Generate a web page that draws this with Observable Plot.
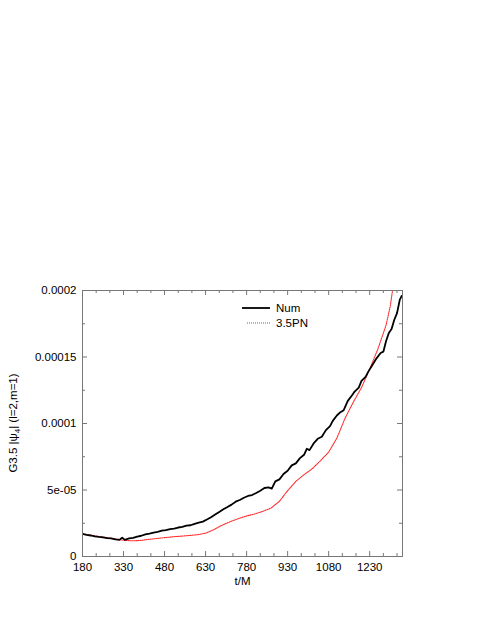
<!DOCTYPE html>
<html>
<head>
<meta charset="utf-8">
<script src="https://cdn.jsdelivr.net/npm/d3@7"></script>
<script src="https://cdn.jsdelivr.net/npm/@observablehq/plot@0.6"></script>
<style>
  html, body { margin: 0; padding: 0; background: #fff; }
  #chart { width: 485px; height: 627px; }
</style>
</head>
<body>
<div id="chart"></div>
<script>
// Values in units of 1e-5
const numT = [180,195,210,225,240,255,270,285,300,315,325,335,350,365,380,395,410,425,440,455,470,485,500,515,530,545,560,575,590,605,620,635,650,665,680,695,710,725,740,755,770,785,800,815,830,845,860,872,885,900,915,930,945,960,975,990,1000,1010,1025,1040,1055,1070,1085,1095,1110,1120,1135,1150,1165,1175,1190,1200,1215,1225,1240,1255,1270,1280,1290,1300,1310,1320,1330,1340,1347,1350];
const numV = [1.70,1.62,1.58,1.52,1.47,1.43,1.38,1.36,1.28,1.25,1.42,1.25,1.36,1.40,1.50,1.56,1.66,1.72,1.80,1.86,1.95,1.98,2.05,2.10,2.18,2.22,2.32,2.35,2.45,2.55,2.62,2.78,2.95,3.15,3.35,3.55,3.72,3.90,4.12,4.25,4.42,4.55,4.62,4.78,4.95,5.15,5.20,5.10,5.65,5.80,6.20,6.45,6.85,7.00,7.40,7.65,8.10,8.00,8.50,8.85,9.00,9.50,9.80,10.2,10.6,10.8,11.0,11.7,12.1,12.4,12.7,13.2,13.5,13.9,14.4,14.9,15.3,15.4,16.2,16.8,17.1,17.8,18.3,19.3,19.6,19.6];
const pnT = [180,210,240,270,300,330,360,390,420,450,480,510,540,570,600,630,660,690,720,750,780,810,840,870,900,930,960,990,1020,1050,1080,1110,1140,1170,1200,1230,1260,1290,1305,1315,1325];
const pnV = [1.70,1.60,1.50,1.42,1.32,1.22,1.18,1.20,1.28,1.35,1.42,1.48,1.53,1.58,1.64,1.75,2.02,2.35,2.62,2.85,3.05,3.20,3.40,3.65,4.15,4.95,5.65,6.15,6.60,7.20,7.85,8.90,10.4,11.6,12.7,14.1,15.6,17.4,18.8,20.2,21.6];
const xTicks = [180,330,480,630,780,930,1080,1230];
const xMinor = [230,280,380,430,530,580,680,730,830,880,980,1030,1130,1180,1280,1330];
const yTicks = [0, 5e-5, 1e-4, 1.5e-4, 2e-4];
const yTickLabels = ["0","5e-05","0.0001","0.00015","0.0002"];
const yMinor = [2.5e-5, 7.5e-5, 1.25e-4, 1.75e-4];
const seriesNames = ["Num", "3.5PN"];

const num = numT.map((t, i) => ({t, v: numV[i] * 1e-5}));
const pn = pnT.map((t, i) => ({t, v: pnV[i] * 1e-5}));

const W = 485, H = 627;
const mT = 290, mB = 71, mL = 82, mR = 83;
const fh = H - mT - mB, fw = W - mL - mR;
const font = "'Liberation Sans', Arial, Helvetica, sans-serif";
const frameColor = "#777";
const red = "#ff2a2a";
const redDash = "1,1";

const plot = Plot.plot({
  width: W, height: H,
  marginTop: mT, marginBottom: mB, marginLeft: mL, marginRight: mR,
  style: {fontFamily: font, fontSize: "11.5px", background: "#fff", color: "#000"},
  x: {domain: [180, 1350]},
  y: {domain: [0, 2e-4]},
  marks: [
    Plot.line(pn, {x: "t", y: "v", stroke: red, strokeWidth: 1.1, strokeDasharray: redDash, clip: true}),
    Plot.line(num, {x: "t", y: "v", stroke: "#000", strokeWidth: 1.8, clip: true}),
    Plot.frame({stroke: frameColor, strokeWidth: 1}),
    // inward ticks
    Plot.ruleX(xTicks, {x: d => d, insetTop: fh - 5, stroke: frameColor}),
    Plot.ruleX(xTicks, {x: d => d, insetBottom: fh - 5, stroke: frameColor}),
    Plot.ruleX(xMinor, {x: d => d, insetTop: fh - 3, stroke: frameColor}),
    Plot.ruleX(xMinor, {x: d => d, insetBottom: fh - 3, stroke: frameColor}),
    Plot.ruleY(yTicks, {y: d => d, insetRight: fw - 5, stroke: frameColor}),
    Plot.ruleY(yTicks, {y: d => d, insetLeft: fw - 5, stroke: frameColor}),
    Plot.ruleY(yMinor, {y: d => d, insetRight: fw - 3, stroke: frameColor}),
    Plot.ruleY(yMinor, {y: d => d, insetLeft: fw - 3, stroke: frameColor}),
    Plot.axisX({ticks: xTicks, tickSize: 0, tickPadding: 6, tickFormat: d => String(d), label: null, fontSize: 11.5}),
    Plot.axisY({ticks: yTicks, tickSize: 0, tickPadding: 6, tickFormat: (d, i) => yTickLabels[yTicks.indexOf(d)], label: null, fontSize: 11.5}),
    Plot.text(["t/M"], {frameAnchor: "bottom", dy: 28, fontSize: 11.5})
  ]
});

document.getElementById("chart").appendChild(plot);

// y-axis title and legend
const svg = d3.select(plot);
const yl = svg.append("text")
  .attr("transform", `translate(17,${mT + fh / 2}) rotate(-90)`)
  .attr("text-anchor", "middle")
  .style("font-family", font).style("font-size", "11.5px");
yl.append("tspan").text("G3.5 |\u03C8");
yl.append("tspan").attr("dy", 3).style("font-size", "8px").text("4");
yl.append("tspan").attr("dy", -3).text("| (l=2,m=1)");

const leg = svg.append("g").style("font-family", font).style("font-size", "11.5px");
const legStyles = [
  {stroke: "#000", width: 1.8, dash: null, x1: 242},
  {stroke: red, width: 1.1, dash: redDash, x1: 247}
];
seriesNames.forEach((name, i) => {
  const yy = 308 + i * 15;
  const s = legStyles[i];
  leg.append("line").attr("x1", s.x1).attr("x2", 270).attr("y1", yy).attr("y2", yy)
    .attr("stroke", s.stroke).attr("stroke-width", s.width).attr("stroke-dasharray", s.dash);
  leg.append("text").attr("x", 276).attr("y", yy + 4).attr("text-anchor", "start").text(name);
});
</script>
</body>
</html>
